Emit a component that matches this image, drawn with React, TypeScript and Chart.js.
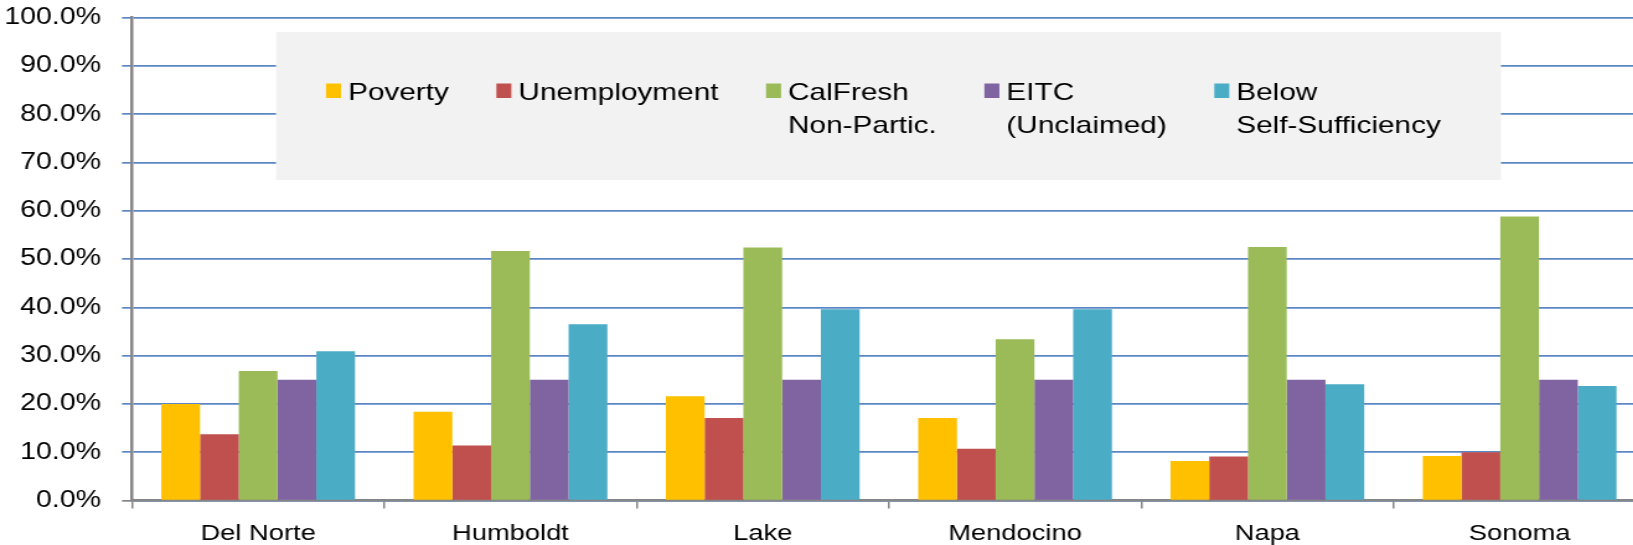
import React, { useEffect, useRef } from "react";
import { Chart, registerables } from "chart.js";

Chart.register(...registerables);

const categories = ["Del Norte", "Humboldt", "Lake", "Mendocino", "Napa", "Sonoma"];
const poverty = [20.0, 18.4, 21.6, 17.1, 8.2, 9.2];
const unemployment = [13.7, 11.4, 17.1, 10.7, 9.1, 10.0];
const calFreshNonPartic = [26.8, 51.7, 52.4, 33.4, 52.5, 58.8];
const eitcUnclaimed = [25.0, 25.0, 25.0, 25.0, 25.0, 25.0];
const belowSelfSufficiency = [30.9, 36.5, 39.6, 39.6, 24.1, 23.7];

const seriesLabels = [
  ["Poverty"],
  ["Unemployment"],
  ["CalFresh", "Non-Partic."],
  ["EITC", "(Unclaimed)"],
  ["Below", "Self-Sufficiency"],
];
const seriesValues = [poverty, unemployment, calFreshNonPartic, eitcUnclaimed, belowSelfSufficiency];
const seriesColors = ["#FFC000", "#C0504D", "#9BBB59", "#8064A2", "#4BACC6"];

const yMin = 0;
const yMax = 100;
const yStep = 10;

// horizontal stretch of the whole drawing (the reference is widened)
const S = 1.24;
const CANVAS_W = 1335;
const CANVAS_H = 545;
const FONT = '"Liberation Sans", Arial, sans-serif';
const GRID = "#5b87c5";
const AXIS = "#868686";

export default function App() {
  const ref = useRef<HTMLCanvasElement | null>(null);

  useEffect(() => {
    if (!ref.current) return;

    const boxLegend = {
      id: "boxLegend",
      afterDraw(chart: any) {
        const ctx = chart.ctx as CanvasRenderingContext2D;
        ctx.save();
        ctx.fillStyle = "#f2f2f2";
        ctx.fillRect(276 / S, 32, (1501 - 276) / S, 148);
        ctx.font = `24px ${FONT}`;
        ctx.textAlign = "left";
        ctx.textBaseline = "alphabetic";
        let x = 326 / S;
        chart.data.datasets.forEach((ds: any, i: number) => {
          const lines = seriesLabels[i];
          ctx.fillStyle = ds.backgroundColor;
          ctx.fillRect(x, 83.5, 15 / S, 14.5);
          ctx.fillStyle = "#000000";
          const tx = x + 22 / S;
          let w = 0;
          lines.forEach((line, j) => {
            ctx.fillText(line, tx, 100 + j * 33);
            w = Math.max(w, ctx.measureText(line).width);
          });
          x = tx + w + 47.5 / S;
        });
        ctx.restore();
      },
    };

    const chart = new Chart(ref.current, {
      type: "bar",
      data: {
        labels: categories,
        datasets: seriesValues.map((vals, i) => ({
          label: seriesLabels[i].join(" "),
          data: vals,
          backgroundColor: seriesColors[i],
          borderWidth: 0,
          barPercentage: 1,
          categoryPercentage: 0.768,
        })),
      },
      options: {
        responsive: false,
        animation: false,
        devicePixelRatio: 1,
        layout: { padding: { left: 0, right: CANVAS_W - 1645.8 / S, top: 17.7, bottom: 0 } },
        plugins: {
          legend: { display: false },
          tooltip: { enabled: false },
          title: { display: false },
        },
        scales: {
          x: {
            grid: {
              display: true,
              drawOnChartArea: false,
              drawTicks: true,
              tickLength: 8,
              tickColor: AXIS,
              lineWidth: 1.5,
              offset: true,
            },
            border: { display: true, color: AXIS, width: 2.5 },
            ticks: {
              color: "#000000",
              font: { family: FONT, size: 22 },
              padding: 12,
              maxRotation: 0,
              autoSkip: false,
            },
            afterFit(scale: any) {
              scale.height = CANVAS_H - 500.5;
              scale.paddingLeft = 0;
              scale.paddingRight = 0;
            },
          },
          y: {
            min: yMin,
            max: yMax,
            grid: {
              color: GRID,
              lineWidth: 1.7,
              tickLength: 10 / S,
              tickColor: (c: any) => (c.tick && c.tick.value === 0 ? AXIS : GRID),
            },
            border: { display: true, color: AXIS, width: 2.5 },
            ticks: {
              stepSize: yStep,
              color: "#000000",
              font: { family: FONT, size: 23 },
              padding: 21 / S,
              callback: (v: any) => Number(v).toFixed(1) + "%",
            },
            afterFit(scale: any) {
              scale.width = 132 / S;
              scale.paddingTop = 0;
              scale.paddingBottom = 0;
            },
          },
        },
      },
      plugins: [boxLegend],
    });

    return () => chart.destroy();
  }, []);

  return (
    <div
      style={{
        position: "fixed",
        left: 0,
        top: 0,
        width: 1633,
        height: 545,
        overflow: "hidden",
        background: "#ffffff",
      }}
    >
      <div
        style={{
          width: CANVAS_W,
          height: CANVAS_H,
          transform: `scaleX(${S})`,
          transformOrigin: "0 0",
        }}
      >
        <canvas ref={ref} width={CANVAS_W} height={CANVAS_H} style={{ display: "block" }} />
      </div>
    </div>
  );
}
